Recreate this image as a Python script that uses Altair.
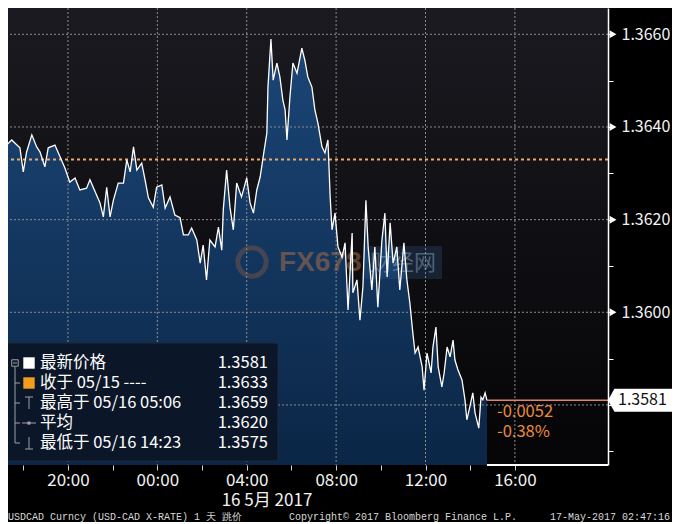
import altair as alt
import pandas as pd

# ---------------- data ----------------
# minutes after 2017-05-15 17:00 and USDCAD price
minutes = [-2, 15, 29, 38, 51, 60, 69, 83, 96, 105,
           118, 127, 145, 159, 172, 185, 199, 212, 230, 239,
           253, 266, 275, 284, 293, 302, 315, 329, 338, 347,
           356, 365, 378, 387, 396, 409, 418, 432, 441, 454,
           467, 481, 490, 503, 512, 526, 535, 543, 552, 561,
           575, 584, 593, 597, 606, 615, 624, 633, 646, 660,
           669, 678, 687, 696, 704, 714, 717, 725, 731, 741,
           749, 757, 763, 768, 776, 784, 795, 808, 816, 824,
           835, 843, 851, 862, 870, 878, 884, 889, 897, 905,
           916, 924, 932, 943, 945, 956, 964, 972, 980, 986,
           996, 1004, 1012, 1023, 1031, 1037, 1045, 1053, 1063, 1071,
           1082, 1090, 1098, 1106, 1112, 1120, 1131, 1136, 1144, 1155,
           1160, 1168, 1174, 1184, 1190, 1198, 1206, 1214, 1219, 1227,
           1238, 1246, 1251, 1259, 1267, 1273, 1283, 1289, 1294, 1300,
           1305]
prices = [1.36335, 1.36361, 1.36372, 1.36365, 1.36355, 1.36303, 1.36346, 1.36383, 1.36357, 1.36346,
          1.36314, 1.36355, 1.36361, 1.36335, 1.36311, 1.36281, 1.36290, 1.36264, 1.36268, 1.36286,
          1.36260, 1.36236, 1.36206, 1.36270, 1.36206, 1.36242, 1.36279, 1.36279, 1.36329, 1.36303,
          1.36357, 1.36307, 1.36322, 1.36286, 1.36247, 1.36227, 1.36270, 1.36275, 1.36225, 1.36249,
          1.36210, 1.36204, 1.36167, 1.36167, 1.36182, 1.36156, 1.36106, 1.36145, 1.36070, 1.36156,
          1.36141, 1.36184, 1.36134, 1.36221, 1.36307, 1.36227, 1.36178, 1.36279, 1.36249, 1.36290,
          1.36236, 1.36214, 1.36264, 1.36292, 1.36335, 1.36387, 1.36486, 1.36590, 1.36501, 1.36538,
          1.36508, 1.36458, 1.36437, 1.36372, 1.36465, 1.36538, 1.36516, 1.36570, 1.36544, 1.36508,
          1.36486, 1.36437, 1.36409, 1.36357, 1.36344, 1.36372, 1.36249, 1.36178, 1.36214, 1.36141,
          1.36119, 1.36150, 1.36005, 1.36171, 1.36042, 1.36070, 1.35983, 1.36055, 1.36242, 1.36141,
          1.36048, 1.36141, 1.36011, 1.36156, 1.36214, 1.36076, 1.36193, 1.36106, 1.36141, 1.36048,
          1.36150, 1.36070, 1.36020, 1.35955, 1.35912, 1.35925, 1.35882, 1.35832, 1.35912, 1.35869,
          1.35925, 1.35968, 1.35882, 1.35839, 1.35869, 1.35925, 1.35904, 1.35940, 1.35897, 1.35876,
          1.35854, 1.35811, 1.35768, 1.35796, 1.35826, 1.35783, 1.35750, 1.35817, 1.35811, 1.35826,
          1.35810]

x_grid_times = ["2017-05-15 20:00", "2017-05-16 00:00", "2017-05-16 04:00",
                "2017-05-16 08:00", "2017-05-16 12:00", "2017-05-16 16:00"]
y_grid_values = [1.358, 1.360, 1.362, 1.364, 1.366]
y_label_values = [1.360, 1.362, 1.364, 1.366]
y_tick_values = [1.357, 1.358, 1.359, 1.360, 1.361, 1.362, 1.363, 1.364, 1.365, 1.366]

prev_close = 1.3633
last_price_text = "1.3581"
change_abs = "-0.0052"
change_pct = "-0.38%"
legend_labels = ["最新价格", "收于 05/15 ----", "最高于 05/16 05:06", "平均", "最低于 05/16 14:23"]
legend_values = ["1.3581", "1.3633", "1.3659", "1.3620", "1.3575"]
date_label = "16 5月 2017"
footer_left = "USDCAD Curncy (USD-CAD X-RATE) 1 天  跳价"
footer_mid = "Copyright© 2017 Bloomberg Finance L.P."
footer_right = "17-May-2017 02:47:16"
watermark_text = "FX678"
watermark_cn = "财经网"

# ---------------- layout ----------------
W, H = 600, 457
CJK = "Noto Sans CJK SC"
MONO = "Liberation Mono"
Y_MIN, Y_MAX = 1.356704, 1.366568

base = pd.Timestamp("2017-05-15 17:00")
df = pd.DataFrame({"t": base + pd.to_timedelta(minutes, unit="m"), "p": prices})
last = df.iloc[[-1]].reset_index(drop=True)
one = pd.DataFrame({"k": [0]})


def dt(ts):
    ts = pd.Timestamp(ts)
    return alt.DateTime(year=ts.year, month=ts.month, date=ts.day,
                        hours=ts.hour, minutes=ts.minute)


xs = alt.Scale(domain=[dt("2017-05-15 17:19"), dt("2017-05-16 20:10")])
ys = alt.Scale(domain=[Y_MIN, Y_MAX], zero=False, nice=False)

tick_times = pd.date_range("2017-05-15 18:00", "2017-05-16 16:00", freq="2h")
x_axis = alt.Axis(values=[dt(t) for t in tick_times],
                  labelExpr="hours(datum.value) % 4 == 0 ? timeFormat(datum.value, '%H:%M') : ''",
                  grid=False, domain=False, tickColor="#d0d0d0", tickSize=5,
                  labelColor="#f2f2f2", labelFont=CJK, labelFontSize=17, labelPadding=2,
                  title=None, labelFlush=False, labelOverlap=False)
y_axis = alt.Axis(orient="right", values=y_tick_values,
                  labelExpr="(round(datum.value*1000) % 2 == 0 && round(datum.value*1000) != 1358) ? format(datum.value, '.4f') : ''",
                  grid=False, domainColor="white", domainWidth=1.5, tickColor="white", tickSize=5,
                  labelColor="#f2f2f2", labelFont=CJK, labelFontSize=16, labelPadding=8,
                  title=None, zindex=1, labelOverlap=False, labelFlush=False)

bg_grad = alt.Gradient(gradient="linear", x1=0, x2=0, y1=0, y2=1,
                       stops=[alt.GradientStop(offset=0, color="#1a1a20"),
                              alt.GradientStop(offset=1, color="#050507")])
area_grad = alt.Gradient(gradient="linear", x1=0, x2=0, y1=0, y2=1,
                         stops=[alt.GradientStop(offset=0, color="#1b4677"),
                                alt.GradientStop(offset=1, color="#0b2646")])

X = alt.X("t:T", scale=xs)
Y = alt.Y("p:Q", scale=ys)

bg = alt.Chart(one).mark_rect(color=bg_grad).encode(
    x=alt.value(0), x2=alt.value(W), y=alt.value(0), y2=alt.value(H))

area = alt.Chart(df).mark_area(clip=True, color=area_grad).encode(
    x=alt.X("t:T", scale=xs, axis=x_axis),
    y=alt.Y("p:Q", scale=ys, axis=y_axis),
    y2=alt.datum(Y_MIN))

grid_x = alt.Chart(pd.DataFrame({"t": pd.to_datetime(x_grid_times)})).mark_rule(
    color="#8c8c8c", strokeDash=[2, 2], strokeWidth=1).encode(x=X)
grid_y = alt.Chart(pd.DataFrame({"p": y_grid_values})).mark_rule(
    color="#8c8c8c", strokeDash=[2, 2], strokeWidth=1).encode(y=Y)

wm_circle = alt.Chart(one).mark_point(shape="circle", filled=False, size=800, strokeWidth=5,
                                      color="#b86a3c", opacity=0.3).encode(
    x=alt.value(244), y=alt.value(254))
wm_text = alt.Chart(one).mark_text(fontSize=28, fontWeight="bold", color="#c47a46", opacity=0.45,
                                   align="left", baseline="middle", font="Liberation Sans").encode(
    x=alt.value(271), y=alt.value(255), text=alt.value(watermark_text))
wm_box = alt.Chart(one).mark_rect(color="#3b6fa8", opacity=0.22).encode(
    x=alt.value(356), x2=alt.value(434), y=alt.value(238), y2=alt.value(271))
wm_cn = alt.Chart(one).mark_text(fontSize=22, color="#9cc0e6", opacity=0.4, align="center",
                                 baseline="middle", font=CJK).encode(
    x=alt.value(395), y=alt.value(255), text=alt.value(watermark_cn))

prev_rule = alt.Chart(pd.DataFrame({"p": [prev_close]})).mark_rule(
    color="#f0a868", strokeDash=[3, 3], strokeWidth=2).encode(y=Y)

line = alt.Chart(df).mark_line(clip=True, color="white", strokeWidth=1.3).encode(x=X, y=Y)

cur_rule = alt.Chart(last).mark_rule(color="#e2846a", strokeWidth=1.5).encode(
    x=X, x2=alt.value(W), y=Y)
bottom_rule = alt.Chart(last).mark_rule(color="white", strokeWidth=2).encode(
    x=X, x2=alt.value(W), y=alt.value(H))

chg1 = alt.Chart(last).mark_text(align="left", baseline="middle", dx=10, dy=12, fontSize=16.5,
                                 color="#ec8b3e", font=CJK).encode(
    x=X, y=Y, text=alt.value(change_abs))
chg2 = alt.Chart(last).mark_text(align="left", baseline="middle", dx=10, dy=32, fontSize=16.5,
                                 color="#ec8b3e", font=CJK).encode(
    x=X, y=Y, text=alt.value(change_pct))

arrows = alt.Chart(pd.DataFrame({"p": y_label_values})).mark_point(
    shape="triangle-right", filled=True, size=64, color="white", opacity=1).encode(
    x=alt.value(W + 5), y=Y)

tag_path = "M-1,0 L-0.8,-0.36 L1,-0.36 L1,0.36 L-0.8,0.36 Z"
tag = alt.Chart(last).mark_point(shape=tag_path, filled=True, size=4096, color="white",
                                 opacity=1, strokeWidth=0).encode(x=alt.value(W + 32), y=Y)
tag_text = alt.Chart(last).mark_text(align="left", baseline="middle", fontSize=16,
                                     color="#111111", font=CJK).encode(
    x=alt.value(W + 10), y=Y, text=alt.value(last_price_text))

# legend panel
ROW = 20
rows = [355 + i * ROW for i in range(len(legend_labels))]
leg_df = pd.DataFrame({"label": legend_labels, "val": legend_values, "py": rows})
legend_box = alt.Chart(one).mark_rect(color="#0b1628", stroke="#1f2b3d", strokeWidth=1,
                                      cornerRadius=3).encode(
    x=alt.value(-2), x2=alt.value(270), y=alt.value(335), y2=alt.value(453))
legend_text = alt.Chart(leg_df).mark_text(align="left", baseline="middle", fontSize=16.5,
                                          color="white", font=CJK).encode(
    x=alt.value(32), y=alt.Y("py:Q", scale=None), text="label:N")
legend_vals = alt.Chart(leg_df).mark_text(align="right", baseline="middle", fontSize=16.5,
                                          color="white", font=CJK).encode(
    x=alt.value(260), y=alt.Y("py:Q", scale=None), text="val:N")
sq_white = alt.Chart(one).mark_square(size=130, color="white", opacity=1).encode(
    x=alt.value(21), y=alt.value(rows[0]))
sq_orange = alt.Chart(one).mark_square(size=130, color="#f39c1f", opacity=1).encode(
    x=alt.value(21), y=alt.value(rows[1]))

tx = 7
segs = [dict(x=tx, y=rows[0] + 4, x2=tx, y2=rows[4])]
for r in rows[1:]:
    segs.append(dict(x=tx, y=r, x2=tx + 5, y2=r))
segs.append(dict(x=tx - 2, y=rows[0], x2=tx + 2, y2=rows[0]))
segs += [dict(x=21, y=rows[2] - 6, x2=21, y2=rows[2] + 6),
         dict(x=17, y=rows[2] - 6, x2=25, y2=rows[2] - 6),
         dict(x=14, y=rows[3], x2=28, y2=rows[3]),
         dict(x=21, y=rows[4] - 6, x2=21, y2=rows[4] + 6),
         dict(x=17, y=rows[4] + 6, x2=25, y2=rows[4] + 6)]
tree = alt.Chart(pd.DataFrame(segs)).mark_rule(color="#a0a0a0", strokeWidth=1).encode(
    x=alt.X("x:Q", scale=None), x2="x2:Q",
    y=alt.Y("y:Q", scale=None), y2="y2:Q")
tree_box = alt.Chart(one).mark_point(shape="square", filled=False, size=42, color="#a0a0a0",
                                     strokeWidth=1, opacity=1).encode(
    x=alt.value(tx), y=alt.value(rows[0]))
avg_dot = alt.Chart(one).mark_point(shape="circle", filled=True, size=14, color="#a0a0a0",
                                    opacity=1).encode(x=alt.value(21), y=alt.value(rows[3]))

date_txt = alt.Chart(one).mark_text(align="center", baseline="middle", fontSize=17,
                                    color="#f2f2f2", font=CJK).encode(
    x=alt.value(259), y=alt.value(H + 36), text=alt.value(date_label))
f_left = alt.Chart(one).mark_text(align="left", baseline="middle", fontSize=10,
                                  color="#d8d8d8", font=MONO).encode(
    x=alt.value(0), y=alt.value(H + 52), text=alt.value(footer_left))
f_mid = alt.Chart(one).mark_text(align="left", baseline="middle", fontSize=10,
                                 color="#d8d8d8", font=MONO).encode(
    x=alt.value(281), y=alt.value(H + 52), text=alt.value(footer_mid))
f_right = alt.Chart(one).mark_text(align="right", baseline="middle", fontSize=10,
                                   color="#d8d8d8", font=MONO).encode(
    x=alt.value(W + 62), y=alt.value(H + 52), text=alt.value(footer_right))

chart = alt.layer(
    bg, area, grid_x, grid_y, wm_circle, wm_text, wm_box, wm_cn, prev_rule, line,
    cur_rule, bottom_rule, chg1, chg2, arrows, tag, tag_text,
    legend_box, tree, tree_box, avg_dot, sq_white, sq_orange, legend_text, legend_vals,
    date_txt, f_left, f_mid, f_right
).properties(
    width=W, height=H,
    autosize=alt.AutoSizeParams(type="none"),
    padding={"left": 0, "top": 0, "right": 64, "bottom": 57},
).configure(background="#000000").configure_view(stroke=None)

chart.save("out.html", embed_options={"renderer": "svg", "actions": False})
